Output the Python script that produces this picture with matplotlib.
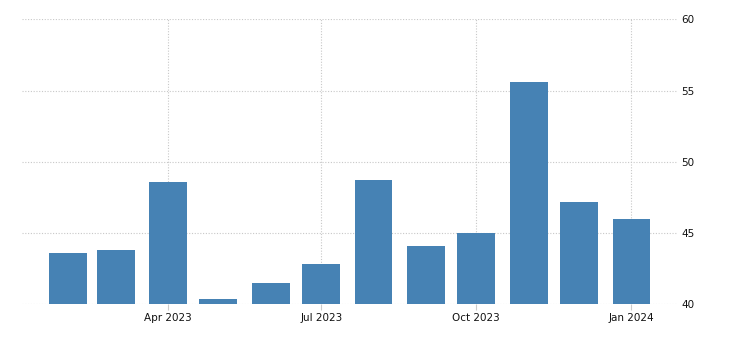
import matplotlib
matplotlib.use("Agg")
import matplotlib.pyplot as plt
import matplotlib.dates as mdates
import numpy as np
import datetime as dt

months = ["2023-02-01", "2023-03-01", "2023-04-01", "2023-05-01", "2023-06-01", "2023-07-01",
          "2023-08-01", "2023-09-01", "2023-10-01", "2023-11-01", "2023-12-01", "2024-01-01"]
values = [43.6, 43.8, 48.6, 40.4, 41.5, 42.8, 48.7, 44.1, 45.0, 55.6, 47.2, 46.0]
xtick_dates = ["2023-04-01", "2023-07-01", "2023-10-01", "2024-01-01"]
xtick_labels = ["Apr 2023", "Jul 2023", "Oct 2023", "Jan 2024"]
yticks = [40, 45, 50, 55, 60]

dates = [dt.datetime.strptime(m, "%Y-%m-%d") for m in months]
tick_d = [dt.datetime.strptime(m, "%Y-%m-%d") for m in xtick_dates]

fig = plt.figure(figsize=(7.3, 3.51), dpi=100)
ax = fig.add_axes([22/730, 1 - 304.3/351, (677-22)/730, (304.3-19.3)/351])

ax.bar(mdates.date2num(dates), [v - 40 for v in values], bottom=40, width=22.5,
       color="#4682B4", zorder=3, align="center")

ax.set_ylim(40, 60)
ax.set_xlim(mdates.date2num(dt.datetime(2023, 1, 4, 12)), mdates.date2num(dt.datetime(2024, 1, 28)))

ax.set_xticks(mdates.date2num(tick_d))
ax.set_xticklabels(xtick_labels)
ax.set_yticks(yticks)
ax.set_yticklabels([str(y) for y in yticks])

ax.yaxis.tick_right()
ax.tick_params(axis="y", length=0, pad=3, labelsize=7.5, labelcolor="#111111")
ax.tick_params(axis="x", length=4, width=0.8, color="#cccccc", pad=2, labelsize=7.5, labelcolor="#111111")

ax.grid(True, axis="both", color="#c8c8c8", linestyle=(0, (1, 1.5)), linewidth=0.8, zorder=0)
for s in ax.spines.values():
    s.set_visible(False)

fig.savefig("out.png", dpi=100)
